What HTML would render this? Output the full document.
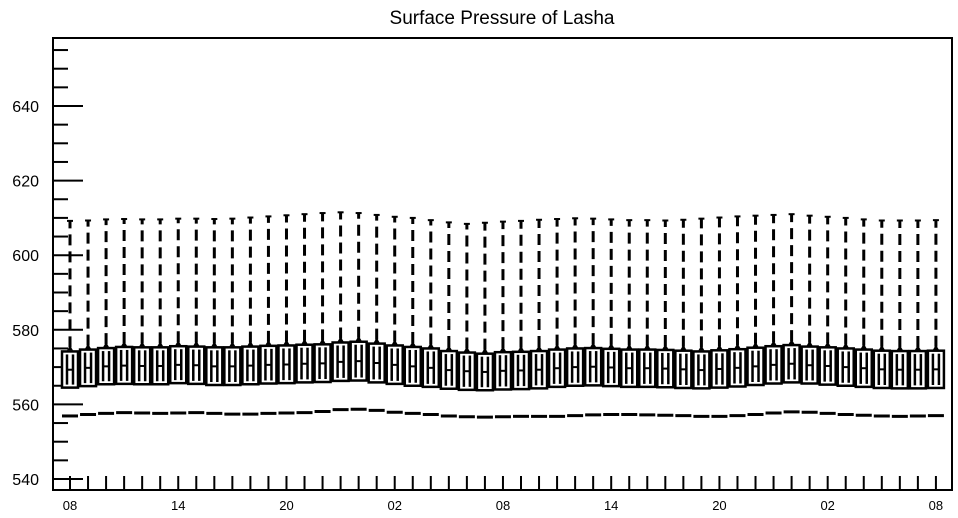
<!DOCTYPE html>
<html><head><meta charset="utf-8"><style>body{margin:0;background:#fff}svg{display:block}</style></head>
<body>
<svg id="chart" width="958" height="518" xmlns="http://www.w3.org/2000/svg" font-family="Liberation Sans, sans-serif">
<text x="502" y="24" text-anchor="middle" font-size="19">Surface Pressure of Lasha</text>
<rect x="53" y="38" width="899" height="452" fill="none" stroke="#000" stroke-width="2"/>
<g id="marks"></g>
</svg>
<script>
const xLabels = ["08","14","20","02","08","14","20","02","08"];
const yTicks = [540,560,580,600,620,640];
const maxV = [609.2,609.3,609.6,609.7,609.6,609.6,609.8,609.8,609.7,609.8,610.1,610.4,610.7,611.0,611.3,611.5,611.3,610.8,610.3,610.0,609.4,608.8,608.4,608.7,609.0,609.2,609.5,609.7,609.9,609.8,609.6,609.4,609.4,609.3,609.5,609.8,610.1,610.4,610.6,610.8,611.0,610.6,610.3,610.0,609.6,609.3,609.3,609.3,609.4];
const q3V = [574.2,574.7,575.1,575.4,575.3,575.3,575.6,575.5,575.3,575.3,575.5,575.7,575.8,576.0,576.1,576.6,576.8,576.3,575.8,575.4,575.0,574.3,573.9,573.6,574.0,574.1,574.3,574.7,575.0,575.1,574.9,574.7,574.7,574.6,574.4,574.2,574.5,574.8,575.2,575.6,575.9,575.5,575.3,575.0,574.7,574.4,574.3,574.3,574.4];
const medV = [569.3,569.8,570.2,570.4,570.3,570.3,570.6,570.5,570.2,570.2,570.4,570.6,570.7,570.9,571.0,571.4,571.6,571.1,570.6,570.2,569.8,569.2,568.9,568.7,569.0,569.1,569.3,569.7,570.0,570.1,569.9,569.7,569.7,569.6,569.4,569.2,569.5,569.8,570.2,570.6,570.9,570.5,570.3,570.0,569.7,569.4,569.3,569.3,569.4];
const q1V = [564.5,564.9,565.4,565.5,565.4,565.4,565.7,565.5,565.2,565.2,565.4,565.6,565.7,565.9,566.0,566.3,566.4,565.9,565.5,565.0,564.7,564.2,563.9,563.8,564.0,564.1,564.3,564.7,565.0,565.1,564.9,564.7,564.7,564.6,564.4,564.3,564.5,564.8,565.2,565.6,565.9,565.6,565.3,565.0,564.7,564.4,564.3,564.3,564.4];
const minV = [556.9,557.3,557.6,557.8,557.7,557.6,557.7,557.8,557.6,557.4,557.4,557.6,557.7,557.8,558.1,558.6,558.7,558.4,557.9,557.6,557.3,556.9,556.7,556.6,556.7,556.8,556.8,556.8,557.0,557.2,557.3,557.3,557.2,557.1,557.0,556.8,556.8,557.0,557.3,557.7,558.0,557.9,557.6,557.3,557.1,556.9,556.8,556.9,557.0];

const NS="http://www.w3.org/2000/svg";
const g=document.getElementById('marks');
const yS=v=>479-(v-540)*3.73;
const xS=i=>70+i*18.04;
function mk(tag,attrs){const e=document.createElementNS(NS,tag);for(const k in attrs)e.setAttribute(k,attrs[k]);g.appendChild(e);return e;}
for(let v=540;v<=655;v+=5){
  const major=yTicks.includes(v);
  const t=mk('line',{x1:53,x2:major?83:68,y1:yS(v),y2:yS(v),stroke:'#000','stroke-width':2});
  
  
}
yTicks.forEach(v=>{
  const t=mk('text',{x:39,y:yS(v)+6,'text-anchor':'end','font-size':16});
  t.textContent=v;
  
  
});
xLabels.forEach((l,k)=>{
  const t=mk('text',{x:xS(k*6),y:510,'text-anchor':'middle','font-size':13});
  t.textContent=l;
  
  
});
maxV.forEach((m,i)=>{
  const x=xS(i);
  const tk=mk('line',{x1:x,x2:x,y1:490,y2:476,stroke:'#000','stroke-width':2});
  
  
  const w=mk('line',{x1:x,x2:x,y1:yS(q3V[i])-4,y2:yS(m),stroke:'#000','stroke-width':3,'stroke-dasharray':'11,6'});
  
  
  const cap=mk('line',{x1:x-3,x2:x+3,y1:yS(m),y2:yS(m),stroke:'#000','stroke-width':2});
  
  
  const ar=mk('path',{d:`M${x-3},${yS(q3V[i])-1}L${x},${yS(q3V[i])-6}L${x+3},${yS(q3V[i])-1}Z`,fill:'#000'});
  
  
  const b=mk('rect',{x:x-8,y:yS(q3V[i]),width:16,height:yS(q1V[i])-yS(q3V[i]),fill:'#fff',stroke:'#000','stroke-width':2.5});
  
  
  [-3,3].forEach(d=>{
    const v=mk('line',{x1:x+d,x2:x+d,y1:yS(q3V[i])+3,y2:yS(q1V[i])-3,stroke:'#000','stroke-width':2.5});
    
    
  });
  const md=mk('line',{x1:x-3,x2:x+3,y1:yS(medV[i]),y2:yS(medV[i]),stroke:'#000','stroke-width':2});
  
  
  const mn=mk('line',{x1:x-8,x2:x+8,y1:yS(minV[i]),y2:yS(minV[i]),stroke:'#000','stroke-width':3});
  
  
});
</script>
</body></html>
